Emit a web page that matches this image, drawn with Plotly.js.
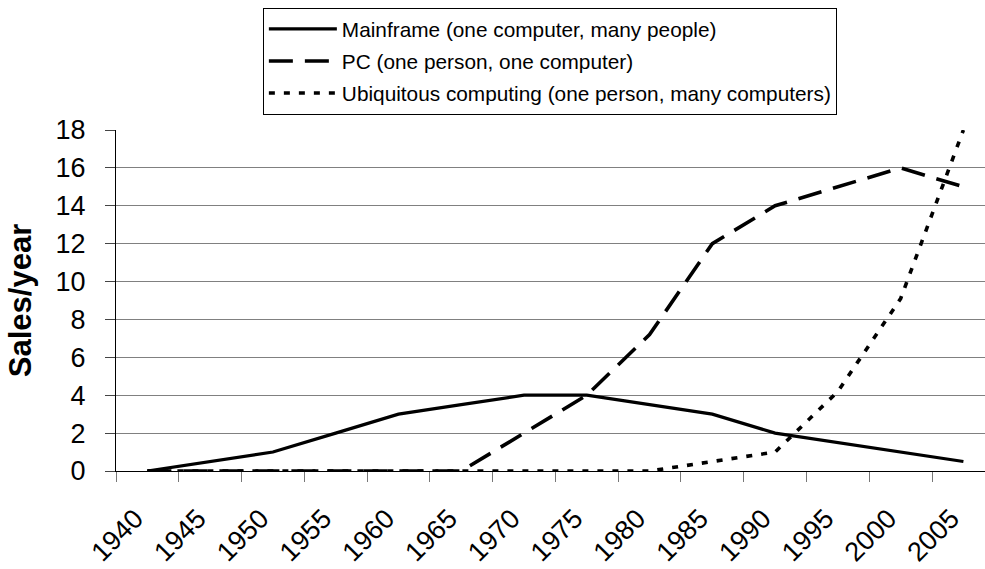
<!DOCTYPE html>
<html>
<head>
<meta charset="utf-8">
<script src="https://cdn.plot.ly/plotly-3.0.1.min.js"></script>
<style>
html,body{margin:0;padding:0;background:#fff;overflow:hidden;}
#chart{width:985px;height:569px;}
</style>
</head>
<body>
<div id="chart"></div>
<script>
var years = ["1940","1945","1950","1955","1960","1965","1970","1975","1980","1985","1990","1995","2000","2005"];
var mainframe = [0, 0.5, 1, 2, 3, 3.5, 4, 4, 3.5, 3, 2, 1.5, 1, 0.5];
var pc = [0, 0, 0, 0, 0, 0, 2, 4, 7.2, 12, 14, 15, 16, 15];
var ubiquitous = [0, 0, 0, 0, 0, 0, 0, 0, 0, 0.5, 1, 4.2, 9.1, 18];
var seriesNames = ["Mainframe (one computer, many people)", "PC (one person, one computer)", "Ubiquitous computing (one person, many computers)"];
var yTitle = "Sales/year";

var FONT = "Liberation Sans, Arial, Helvetica, sans-serif";

var traces = [
  {x: years, y: mainframe, name: seriesNames[0], type: "scatter", mode: "lines", legendgroup: "a",
   line: {color: "#000", width: 3.2, dash: "solid"}},
  {x: years, y: pc, name: seriesNames[1], type: "scatter", mode: "lines", legendgroup: "b",
   line: {color: "#000", width: 3.6, dash: "24px,12px"}},
  {x: years, y: ubiquitous, name: seriesNames[2], type: "scatter", mode: "lines", legendgroup: "c",
   line: {color: "#000", width: 3.6, dash: "6px,9px"}}
];

var layout = {
  width: 985, height: 569,
  margin: {l: 116, r: 0, t: 130, b: 98},
  paper_bgcolor: "#fff", plot_bgcolor: "#fff",
  font: {family: FONT, color: "#000", size: 27},
  showlegend: true,
  legend: {
    x: 0.169, xanchor: "left", y: 1.358, yanchor: "top",
    bordercolor: "#000", borderwidth: 1, bgcolor: "#fff",
    font: {family: FONT, size: 20.8, color: "#000"},
    itemwidth: 68, tracegroupgap: 2
  },
  xaxis: {
    type: "category",
    range: [-0.5, 13.344],
    tickson: "boundaries",
    ticks: "outside", ticklen: 10, tickwidth: 1, tickcolor: "#777",
    showgrid: false, zeroline: false,
    showline: true, linecolor: "#000", linewidth: 1,
    tickangle: -45,
    ticklabelstandoff: 20,
    ticklabelshift: -12,
    tickfont: {family: FONT, size: 27, color: "#000"},
    fixedrange: true
  },
  yaxis: {
    range: [0, 18], dtick: 2, tick0: 0,
    ticks: "outside", ticklen: 10, tickwidth: 1, tickcolor: "#444",
    showgrid: true, gridcolor: "#808080", gridwidth: 1,
    zeroline: false,
    showline: true, linecolor: "#000", linewidth: 1,
    tickfont: {family: FONT, size: 27, color: "#000"},
    ticklabelstandoff: 14,
    title: {text: "<b>" + yTitle + "</b>", font: {family: FONT, size: 31, color: "#000"}, standoff: 14},
    fixedrange: true
  }
};

Plotly.newPlot("chart", traces, layout, {displayModeBar: false, staticPlot: true});
</script>
</body>
</html>
